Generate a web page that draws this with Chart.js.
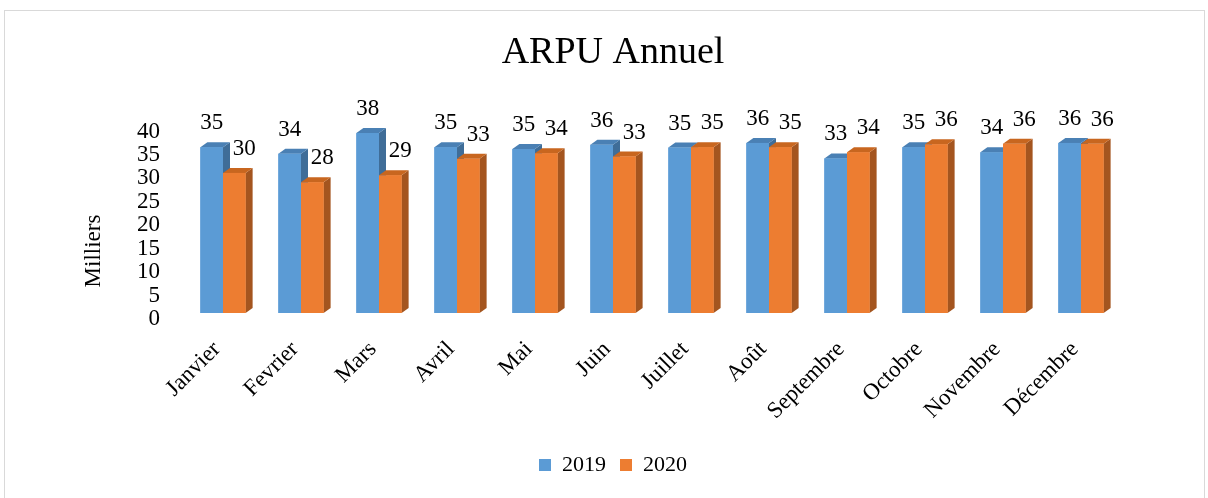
<!DOCTYPE html>
<html>
<head>
<meta charset="utf-8">
<title>ARPU Annuel</title>
<script src="https://cdn.jsdelivr.net/npm/chart.js@4.4.1/dist/chart.umd.min.js"></script>
<style>
  html, body { margin: 0; padding: 0; background: #fff; }
  #wrap { position: relative; width: 1208px; height: 498px; }
  #frame { position: absolute; left: 4px; top: 10px; width: 1199px; height: 500px; border: 1px solid #d9d9d9; pointer-events: none; }
</style>
</head>
<body>
<div id="wrap">
  <canvas id="ChartArpu" width="1208" height="498"></canvas>
  <div id="frame"></div>
</div>
<script>
  "use strict";

  // Data
  const months = ['Janvier', 'Fevrier', 'Mars', 'Avril', 'Mai', 'Juin', 'Juillet', 'Août', 'Septembre', 'Octobre', 'Novembre', 'Décembre'];
  const arpu2019 = [35.4, 34.0, 38.4, 35.4, 35.0, 35.9, 35.3, 36.3, 33.0, 35.4, 34.3, 36.3];
  const arpu2020 = [29.9, 27.9, 29.4, 32.9, 34.1, 33.4, 35.4, 35.4, 34.3, 36.0, 36.1, 36.1];
  const yTicks = [0, 5, 10, 15, 20, 25, 30, 35, 40];
  const yTitle = 'Milliers';

  // Colors
  const blue_front   = '#5B9BD5';
  const blue_top     = '#4A80B4';
  const blue_side    = '#3F6D98';
  const orange_front = '#ED7D31';
  const orange_top   = '#C8661F';
  const orange_side  = '#A4551F';

  const font_family = "'Liberation Serif', 'Times New Roman', serif";

  // 3D faces + value labels drawn over the bar elements
  const depthX = 7;
  const depthY = -5;
  const faces = [
    { front: blue_front, top: blue_top, side: blue_side, labelDx: 0 },
    { front: orange_front, top: orange_top, side: orange_side, labelDx: 10 }
  ];

  const bars3d = {
    id: 'bars3d',
    afterDatasetsDraw(chart) {
      const ctx = chart.ctx;
      ctx.save();
      chart.data.datasets.forEach(function (ds, di) {
        const meta = chart.getDatasetMeta(di);
        const f = faces[di];
        meta.data.forEach(function (bar) {
          const p = bar.getProps(['x', 'y', 'base', 'width'], true);
          const l = p.x - p.width / 2;
          const r = p.x + p.width / 2;
          // side
          ctx.fillStyle = f.side;
          ctx.beginPath();
          ctx.moveTo(r, p.y);
          ctx.lineTo(r + depthX, p.y + depthY);
          ctx.lineTo(r + depthX, p.base + depthY);
          ctx.lineTo(r, p.base);
          ctx.closePath();
          ctx.fill();
          // top
          ctx.fillStyle = f.top;
          ctx.beginPath();
          ctx.moveTo(l, p.y);
          ctx.lineTo(l + depthX, p.y + depthY);
          ctx.lineTo(r + depthX, p.y + depthY);
          ctx.lineTo(r, p.y);
          ctx.closePath();
          ctx.fill();
          // front
          ctx.fillStyle = f.front;
          ctx.fillRect(l, p.y, p.width, p.base - p.y);
        });
      });
      // values
      ctx.fillStyle = '#000';
      ctx.font = '23px ' + font_family;
      ctx.textAlign = 'center';
      ctx.textBaseline = 'middle';
      chart.data.datasets.forEach(function (ds, di) {
        const meta = chart.getDatasetMeta(di);
        meta.data.forEach(function (bar, i) {
          const p = bar.getProps(['x', 'y'], true);
          ctx.fillText(Math.round(ds.data[i]), p.x + faces[di].labelDx, p.y - 24);
        });
      });
      // y axis title, centred like the reference (below the plot centre)
      ctx.font = '23px ' + font_family;
      ctx.translate(94, 251);
      ctx.rotate(-Math.PI / 2);
      ctx.fillText(yTitle, 0, 0);
      ctx.restore();
    }
  };

  Chart.defaults.font.family = font_family;
  Chart.defaults.color = '#000';

  const ctb = document.getElementById('ChartArpu').getContext('2d');
  const ArpuChart = new Chart(ctb, {
    type: 'bar',
    data: {
      labels: months,
      datasets: [{
        label: '2019',
        data: arpu2019,
        backgroundColor: blue_front,
        borderWidth: 0
      },
      {
        label: '2020',
        data: arpu2020,
        backgroundColor: orange_front,
        borderWidth: 0
      }]
    },
    options: {
      responsive: false,
      animation: false,
      layout: {
        padding: { left: 18, right: 0, top: 0, bottom: 12 }
      },
      datasets: {
        bar: {
          categoryPercentage: 0.58,
          barPercentage: 1
        }
      },
      scales: {
        x: {
          grid: { display: false, drawTicks: false },
          border: { display: false },
          ticks: {
            font: { size: 23 },
            maxRotation: 45,
            minRotation: 45,
            padding: 23,
            labelOffset: -6,
            autoSkip: false
          },
          afterFit: function (scale) { scale.height = 127; }
        },
        y: {
          min: 0,
          max: 40,
          grid: { display: false, drawTicks: false },
          border: { display: false },
          afterBuildTicks: function (scale) {
            scale.ticks = yTicks.map(function (v) { return { value: v }; });
          },
          ticks: {
            font: { size: 23 },
            padding: 24,
            labelOffset: 6,
            autoSkip: false
          },
          afterFit: function (scale) { scale.width = 166; }
        },
        yRight: {
          position: 'right',
          display: true,
          grid: { display: false, drawTicks: false },
          border: { display: false },
          ticks: { display: false },
          afterFit: function (scale) { scale.width = 88; }
        }
      },
      plugins: {
        title: {
          display: true,
          text: 'ARPU Annuel',
          font: { size: 38, weight: 'normal' },
          padding: { top: 30, bottom: 50 }
        },
        legend: {
          display: true,
          position: 'bottom',
          labels: {
            boxWidth: 12,
            boxHeight: 12,
            font: { size: 22 },
            padding: 14
          }
        },
        tooltip: { enabled: false }
      }
    },
    plugins: [bars3d]
  });
</script>
</body>
</html>
